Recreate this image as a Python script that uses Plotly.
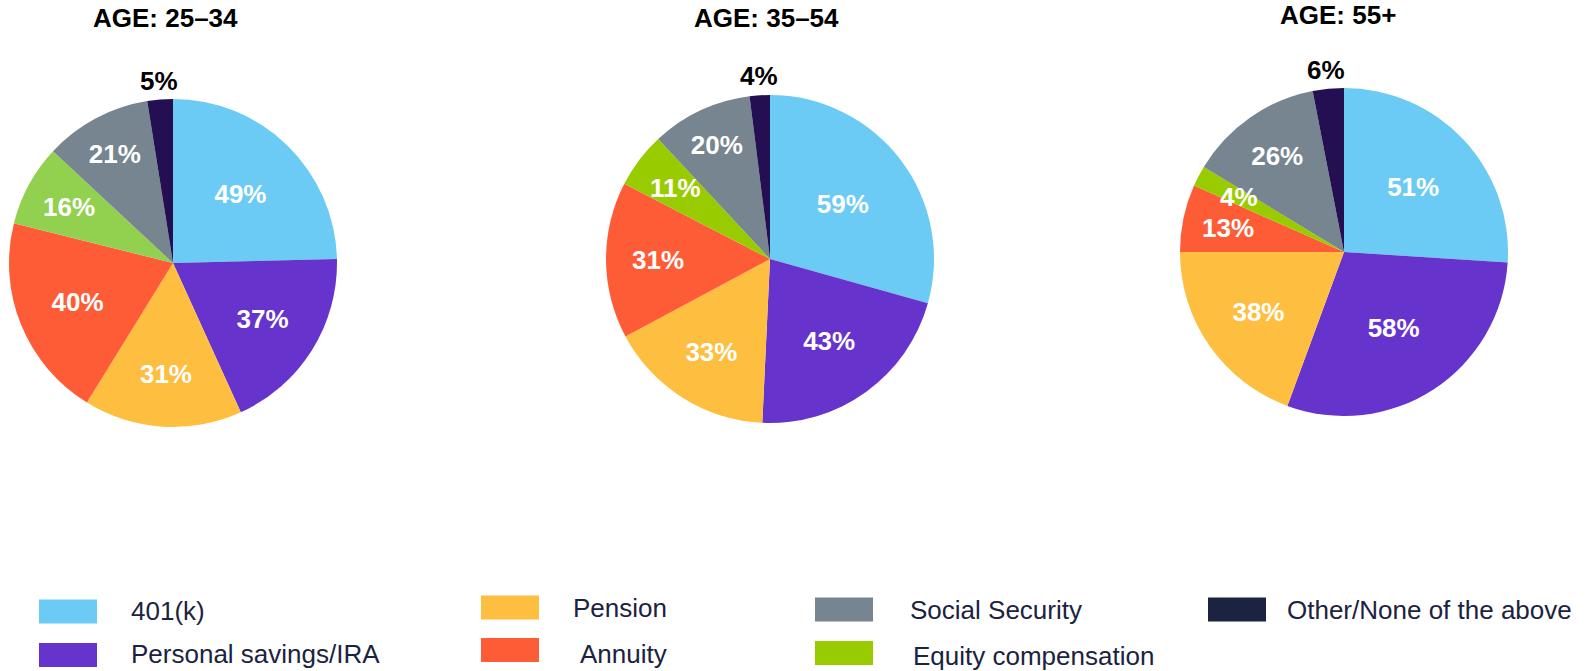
import math
import plotly.graph_objects as go

# ---------------- data ----------------
categories = ["401(k)", "Personal savings/IRA", "Pension", "Annuity",
              "Equity compensation", "Social Security", "Other/None of the above"]
age_groups = ["AGE: 25\u201334", "AGE: 35\u201354", "AGE: 55+"]
values_25_34 = [49, 37, 31, 40, 16, 21, 5]
values_35_54 = [59, 43, 33, 31, 11, 20, 4]
values_55_plus = [51, 58, 38, 13, 4, 26, 6]
all_values = [values_25_34, values_35_54, values_55_plus]

# legend layout: columns of category indices
legend_columns = [[0, 1], [2, 3], [5, 4], [6]]

# ---------------- style ----------------
W, H = 1589, 671
base_colors = ["#6CCBF4", "#6633CC", "#FEBE40", "#FE5C36", "#99CC00", "#76858F", "#230F52"]
legend_colors = ["#6CCBF4", "#6633CC", "#FEBE40", "#FE5C36", "#99CC00", "#76858F", "#1B2340"]
pie_colors = [list(base_colors), list(base_colors), list(base_colors)]
pie_colors[0][4] = "#92D050"

BOLD_FONT = "Liberation Sans, Arial, sans-serif"
LEG_FONT = "Liberation Sans, Arial, sans-serif"

centers = [(173, 263), (770, 259), (1344, 252)]
R = 164
OUT_R = 1.115     # radial position of the outside label, in radii
SMALL_R = 0.72    # radial position of labels for narrow slices
SMALL_FRAC = 0.09
title_pos = [(165, 18), (766, 18), (1338, 15)]


def px(x):
    return x / W


def py(y):
    return 1 - y / H


def polar(cx, cy, frac, rr):
    ang = 2 * math.pi * frac  # clockwise from 12 o'clock
    return cx + rr * math.sin(ang), cy - rr * math.cos(ang)


fig = go.Figure()
annotations = []
n = len(categories)
for i, vals in enumerate(all_values):
    cx, cy = centers[i]
    total = sum(vals)
    positions = []
    cum = 0
    for k, v in enumerate(vals):
        frac = v / total
        mid = (cum + v / 2) / total
        cum += v
        if k == n - 1:
            positions.append("none")
            lx, ly = polar(cx, cy, mid, OUT_R * R)
            annotations.append(dict(text="<b>%d%%</b>" % v, x=px(lx), y=py(ly),
                                    xref="paper", yref="paper", xanchor="center", yanchor="middle",
                                    showarrow=False, font=dict(size=26, color="black", family=BOLD_FONT)))
        elif frac < SMALL_FRAC:
            positions.append("none")
            lx, ly = polar(cx, cy, mid, SMALL_R * R)
            annotations.append(dict(text="<b>%d%%</b>" % v, x=px(lx), y=py(ly),
                                    xref="paper", yref="paper", xanchor="center", yanchor="middle",
                                    showarrow=False, font=dict(size=26, color="white", family=BOLD_FONT)))
        else:
            positions.append("inside")
    fig.add_trace(go.Pie(
        labels=categories,
        values=vals,
        sort=False,
        direction="clockwise",
        rotation=0,
        marker=dict(colors=pie_colors[i], line=dict(width=0)),
        texttemplate="<b>%{value}%</b>",
        textposition=positions,
        insidetextorientation="horizontal",
        insidetextfont=dict(color="white", size=26, family=BOLD_FONT),
        domain=dict(x=[px(cx - R), px(cx + R)], y=[py(cy + R), py(cy - R)]),
        showlegend=False,
        hovertemplate="%{label}: %{value}%<extra></extra>",
    ))

for i, t in enumerate(age_groups):
    tx, ty = title_pos[i]
    annotations.append(dict(text="<b>" + t + "</b>", x=px(tx), y=py(ty), xref="paper", yref="paper",
                            xanchor="center", yanchor="middle", showarrow=False,
                            font=dict(size=26, color="black", family=BOLD_FONT)))

# custom legend (boxes + labels)
col_box_x = [39, 481, 815, 1208]
col_text_x = [[129, 129], [571, 578], [908, 911], [1285]]
col_box_y = [[611.5, 655], [607.5, 650], [609.5, 653], [609.5]]
col_text_y = [[611, 654], [607.5, 654], [609.5, 655.5], [609.5]]
box_w, box_h = 58, 24
shapes = []
for c, col in enumerate(legend_columns):
    for r, idx in enumerate(col):
        yc = col_box_y[c][r]
        shapes.append(dict(type="rect", xref="paper", yref="paper",
                           x0=px(col_box_x[c]), x1=px(col_box_x[c] + box_w),
                           y0=py(yc + box_h / 2), y1=py(yc - box_h / 2),
                           fillcolor=legend_colors[idx], line=dict(width=0)))
        annotations.append(dict(text=categories[idx], x=px(col_text_x[c][r]), y=py(col_text_y[c][r]),
                                xref="paper", yref="paper", xanchor="left", yanchor="middle",
                                align="left", showarrow=False,
                                font=dict(size=26, color="#1B2340", family=LEG_FONT)))

fig.update_layout(
    width=W, height=H,
    margin=dict(l=0, r=0, t=0, b=0),
    paper_bgcolor="white",
    plot_bgcolor="white",
    uniformtext=dict(minsize=26, mode="show"),
    annotations=annotations,
    shapes=shapes,
)

post = "document.body.style.margin='0';document.body.style.overflow='hidden';"
fig.write_html("out.html", config={"displayModeBar": False}, post_script=post)
